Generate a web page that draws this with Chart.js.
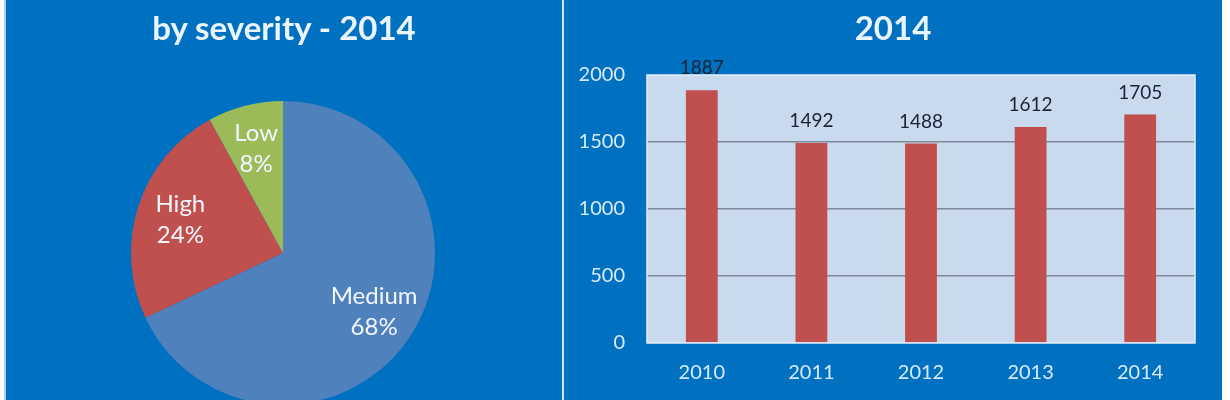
<!DOCTYPE html>
<html>
<head>
<meta charset="utf-8">
<script src="https://cdn.jsdelivr.net/npm/chart.js@4"></script>
<style>
  html, body { margin: 0; padding: 0; background: #ffffff; width: 1230px; height: 400px; overflow: hidden; }
  .panel { position: absolute; top: 0; height: 400px; background: #0070C0; overflow: hidden; }
  #left { left: 6px; width: 556px; }
  #sep { position: absolute; left: 562px; top: 0; width: 2px; height: 400px; background: #CFE6F7; }
  #edgeL { position: absolute; left: 4px; top: 0; width: 2px; height: 400px; background: #A9D0EE; }
  #right { left: 564px; width: 658px; }
  .title { position: absolute; left: 0; right: 0; top: 11px; text-align: center; font-family: Lato, "Open Sans", sans-serif; font-weight: 700; font-size: 33px; line-height: 33px; color: #EAF5FF; }
  canvas { position: absolute; left: 0; top: 0; }
</style>
</head>
<body>
<div id="edgeL"></div>
<div class="panel" id="left">
  <canvas id="pie" width="556" height="410"></canvas>
  <div class="title">by severity - 2014</div>
</div>
<div id="sep"></div>
<div class="panel" id="right">
  <canvas id="bar" width="658" height="400"></canvas>
  <div class="title">2014</div>
</div>
<script>
// ---- data ----
const severityLabels = ['Medium', 'High', 'Low'];
const severityShares = [68, 24, 8];
const years = ['2010', '2011', '2012', '2013', '2014'];
const incidents = [1887, 1492, 1488, 1612, 1705];
const yTickValues = [0, 500, 1000, 1500, 2000];

const FONT = 'Lato, "Open Sans", sans-serif';

// pie labels inside slices
const pieLabelPlugin = {
  id: 'pieLabels',
  afterDatasetsDraw(chart) {
    const ctx = chart.ctx;
    const meta = chart.getDatasetMeta(0);
    ctx.save();
    ctx.font = '24px ' + FONT;
    ctx.textAlign = 'center';
    ctx.textBaseline = 'middle';
    ctx.fillStyle = '#F2F6FF';
    meta.data.forEach((arc, i) => {
      const p = arc.getProps(['x', 'y', 'startAngle', 'endAngle', 'outerRadius'], true);
      const mid = (p.startAngle + p.endAngle) / 2;
      const r = p.outerRadius * 0.71;
      const cx = p.x + Math.cos(mid) * r;
      const cy = p.y + Math.sin(mid) * r;
      ctx.fillText(severityLabels[i], cx, cy - 15);
      ctx.fillText(severityShares[i] + '%', cx, cy + 16);
    });
    ctx.restore();
  }
};

new Chart(document.getElementById('pie'), {
  type: 'pie',
  data: {
    labels: severityLabels,
    datasets: [{
      data: severityShares,
      backgroundColor: ['#4F81BD', '#C0504D', '#9BBB59'],
      borderWidth: 0
    }]
  },
  options: {
    responsive: false,
    animation: false,
    layout: { padding: { left: 125, right: 127, top: 101, bottom: 5 } },
    plugins: { legend: { display: false }, tooltip: { enabled: false }, title: { display: false } }
  },
  plugins: [pieLabelPlugin]
});

// plot area background + border
const plotAreaPlugin = {
  id: 'plotArea',
  beforeDraw(chart) {
    const { ctx, chartArea: a } = chart;
    ctx.save();
    ctx.fillStyle = '#C9D9EE';
    ctx.fillRect(a.left, a.top, a.right - a.left, a.bottom - a.top);
    ctx.restore();
  },
  afterDraw(chart) {
    const { ctx, chartArea: a } = chart;
    ctx.save();
    ctx.strokeStyle = '#E4EEF9';
    ctx.lineWidth = 1.5;
    ctx.strokeRect(a.left, a.top, a.right - a.left, a.bottom - a.top);
    ctx.restore();
  }
};

// value labels above bars
const barLabelPlugin = {
  id: 'barLabels',
  afterDatasetsDraw(chart) {
    const ctx = chart.ctx;
    const meta = chart.getDatasetMeta(0);
    ctx.save();
    ctx.font = '19px ' + FONT;
    ctx.textAlign = 'center';
    ctx.textBaseline = 'middle';
    ctx.fillStyle = '#1B2236';
    meta.data.forEach((bar, i) => {
      ctx.fillText(String(incidents[i]), bar.x, bar.y - 22);
    });
    ctx.restore();
  }
};

new Chart(document.getElementById('bar'), {
  type: 'bar',
  data: {
    labels: years,
    datasets: [{
      data: incidents,
      backgroundColor: '#C0504D',
      borderWidth: 0,
      categoryPercentage: 1,
      barPercentage: 0.29
    }]
  },
  options: {
    responsive: false,
    animation: false,
    layout: { padding: { left: 0, right: 27, top: 75, bottom: 0 } },
    plugins: { legend: { display: false }, tooltip: { enabled: false }, title: { display: false } },
    scales: {
      x: {
        grid: { display: false, drawTicks: false },
        border: { display: false },
        ticks: { color: '#D8EAFA', font: { family: FONT, size: 20 }, padding: 18 },
        afterFit(scale) { scale.height = 57; }
      },
      y: {
        min: 0,
        max: 2000,
        afterBuildTicks(scale) { scale.ticks = yTickValues.map(v => ({ value: v })); },
        grid: {
          drawTicks: false,
          lineWidth: 1.5,
          color: (c) => (c.tick && (c.tick.value === 0 || c.tick.value === 2000)) ? 'rgba(0,0,0,0)' : '#7F8899'
        },
        border: { display: false },
        ticks: {
          color: '#D8EAFA',
          font: { family: FONT, size: 20 },
          padding: 22,
          callback: (v) => String(v)
        },
        afterFit(scale) { scale.width = 83; }
      }
    }
  },
  plugins: [plotAreaPlugin, barLabelPlugin]
});
</script>
</body>
</html>
